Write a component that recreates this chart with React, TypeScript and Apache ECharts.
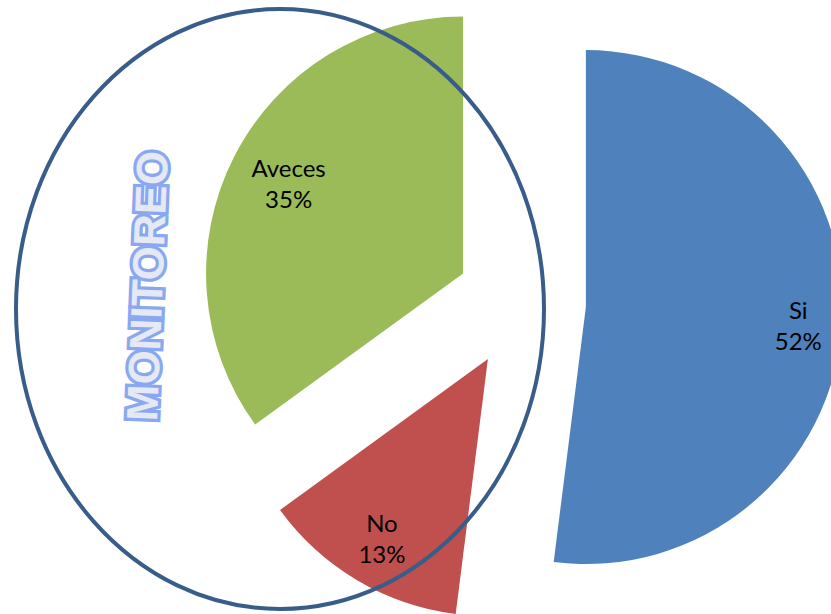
import React, { useEffect, useRef } from "react";
import * as echarts from "echarts";

const categories = ["Si", "No", "Aveces"];
const values = [52, 13, 35];
const palette = ["#4F81BD", "#C0504D", "#9BBB59"];
const title = "MONITOREO";
// label nudges (layout only) relative to ECharts' default inside position
const labelNudge = [
  [100, 18],
  [-2, 52],
  [-46, -38],
];

export default function App() {
  const ref = useRef<HTMLDivElement>(null);
  useEffect(() => {
    document.body.style.margin = "0";
    const chart = echarts.init(ref.current!, null, { renderer: "svg" });
    const labelStyle = {
      show: true,
      position: "inside",
      rotate: 0,
      formatter: "{b}\n{d}%",
      color: "#000",
      fontFamily: "Lato",
      fontSize: 24,
      lineHeight: 31,
    };
    const option: any = {
      animation: false,
      color: palette,
      series: [
        {
          type: "pie",
          center: [521, 303],
          radius: [0, 257],
          startAngle: 90,
          clockwise: true,
          selectedMode: "multiple",
          selectedOffset: 65,
          percentPrecision: 0,
          avoidLabelOverlap: false,
          emphasis: { disabled: true },
          labelLine: { show: false },
          silent: true,
          label: labelStyle,
          select: { itemStyle: { borderWidth: 0 }, label: labelStyle },
          data: categories.map((c, i) => ({
            name: c,
            value: values[i],
            selected: true,
            label: { offset: labelNudge[i] },
            select: { label: { offset: labelNudge[i] } },
          })),
        },
      ],
      graphic: [
        {
          type: "ellipse",
          z: 100,
          shape: { cx: 280, cy: 309, rx: 264, ry: 300 },
          style: { fill: "none", stroke: "#385D8A", lineWidth: 4 },
        },
        {
          type: "text",
          z: 101,
          x: 147,
          y: 286,
          rotation: (87.7 * Math.PI) / 180,
          style: {
            text: title,
            fontFamily: "Liberation Sans",
            fontWeight: "bold",
            fontSize: 44,
            fill: "#e4e9f4",
            stroke: "#8aa7f1",
            lineWidth: 6.5,
            align: "center",
            verticalAlign: "middle",
            shadowColor: "rgba(0,0,0,0.35)",
            shadowBlur: 2,
            shadowOffsetX: 1,
            shadowOffsetY: 1,
          },
        },
      ],
    };
    chart.setOption(option);
    return () => chart.dispose();
  }, []);
  return <div ref={ref} style={{ width: 831, height: 614 }} />;
}
